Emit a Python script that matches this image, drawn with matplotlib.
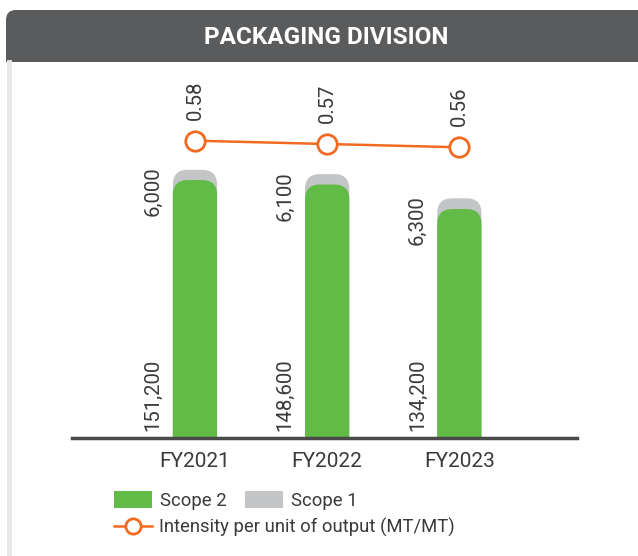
import matplotlib
matplotlib.use("Agg")
import matplotlib.pyplot as plt
from matplotlib.patches import FancyBboxPatch, Patch
from matplotlib.lines import Line2D

plt.rcParams["font.family"] = ["Roboto", "DejaVu Sans"]

years = ["FY2021", "FY2022", "FY2023"]
scope2 = [151200, 148600, 134200]
scope1 = [6000, 6100, 6300]
intensity = [0.58, 0.57, 0.56]

scope2_labels = ["151,200", "148,600", "134,200"]
scope1_labels = ["6,000", "6,100", "6,300"]
intensity_labels = ["0.58", "0.57", "0.56"]

GREEN = "#62BB46"
GREY = "#C4C5C7"
ORANGE = "#F26A21"
HEADER = "#5A5B5D"
TEXT = "#3a3a3a"

W, H = 638, 556
fig = plt.figure(figsize=(W / 100, H / 100), dpi=100)

# ── card background + header (pixel coords) ──────────────────────────
bg = fig.add_axes([0, 0, 1, 1], zorder=0)
bg.set_xlim(0, W)
bg.set_ylim(H, 0)
bg.axis("off")
bg.add_patch(FancyBboxPatch((6, 10), 680, 80, boxstyle="round,pad=0,rounding_size=10",
                            facecolor=HEADER, edgecolor="none"))
bg.add_patch(plt.Rectangle((6, 62), 680, 500, facecolor="white", edgecolor="none"))
bg.plot([8.5, 8.5], [62, 556], color="#e8e8e8", lw=3.5)
bg.text(326, 37, "PACKAGING DIVISION", color="white", fontsize=17.5,
        fontweight="bold", ha="center", va="center")

# ── main axes ────────────────────────────────────────────────────────
ax = fig.add_axes([72 / W, (H - 438) / H, 505 / W, 368 / H], zorder=1)
ax.patch.set_alpha(0)
x = list(range(len(years)))
ax.set_xlim(-0.93, 2.89)
ax.set_ylim(0, 368 / 0.001706)
for s in ["top", "right", "left"]:
    ax.spines[s].set_visible(False)
ax.spines["bottom"].set_color("#4a4a4a")
ax.spines["bottom"].set_linewidth(2.5)
ax.spines["bottom"].set_zorder(5)
ax.set_yticks([])
ax.set_xticks(x)
ax.set_xticklabels(years, fontsize=15, color=TEXT)
ax.tick_params(axis="x", length=0, pad=10)

# rounded-top bars (bottom hidden below the axis line)
fig.canvas.draw()
bb = ax.get_window_extent()
ypp = (ax.get_ylim()[1] - ax.get_ylim()[0]) / bb.height
xpp = (ax.get_xlim()[1] - ax.get_xlim()[0]) / bb.width
aspect = ypp / xpp
bw = 0.335
rad = 15 * xpp
below = -30 * ypp
for xi, s2, s1 in zip(x, scope2, scope1):
    ax.add_patch(FancyBboxPatch((xi - bw / 2, below), bw, s2 + s1 - below,
                                boxstyle=f"round,pad=0,rounding_size={rad}",
                                mutation_aspect=aspect, facecolor=GREY,
                                edgecolor="none", zorder=2))
    ax.add_patch(FancyBboxPatch((xi - bw / 2, below), bw, s2 - below,
                                boxstyle=f"round,pad=0,rounding_size={rad}",
                                mutation_aspect=aspect, facecolor=GREEN,
                                edgecolor="none", zorder=3))

for xi, s2, s1, l2, l1 in zip(x, scope2, scope1, scope2_labels, scope1_labels):
    ax.text(xi - 0.318, 7 * ypp, l2, rotation=90, ha="center", va="bottom",
            fontsize=14.7, color=TEXT)
    ax.text(xi - 0.318, s2 + s1 + 3 * ypp, l1, rotation=90, ha="center", va="top",
            fontsize=14.7, color=TEXT)

# ── intensity line ───────────────────────────────────────────────────
ax2 = ax.twinx()
ax2.set_ylim(0.58 - 297.3 / 330, 0.58 + 70.7 / 330)
ax2.axis("off")
ax2.plot(x, intensity, color=ORANGE, lw=1.8, marker="o", markersize=14,
         markerfacecolor="white", markeredgecolor=ORANGE, markeredgewidth=2,
         zorder=4)
for xi, v, lab in zip(x, intensity, intensity_labels):
    ax2.annotate(lab, (xi, v), xytext=(0, 15), textcoords="offset points",
                 rotation=90, ha="center", va="bottom", fontsize=14.7, color=TEXT)

# ── legend ───────────────────────────────────────────────────────────
h1 = [Patch(facecolor=GREEN, edgecolor="none"), Patch(facecolor=GREY, edgecolor="none")]
fig.legend(h1, ["Scope 2", "Scope 1"], loc="upper left",
           bbox_to_anchor=(114 / W, 1 - 491 / H), ncol=2, frameon=False,
           fontsize=13.3, handlelength=2.05, handleheight=1.0,
           handletextpad=0.45, columnspacing=1.0, borderpad=0,
           borderaxespad=0, labelcolor=TEXT)
h2 = [Line2D([0], [0], color=ORANGE, lw=1.8, marker="o", markersize=11,
             markerfacecolor="white", markeredgecolor=ORANGE, markeredgewidth=2)]
fig.legend(h2, ["Intensity per unit of output (MT/MT)"], loc="upper left",
           bbox_to_anchor=(114 / W, 1 - 518 / H), frameon=False, fontsize=13.3,
           handlelength=2.05, handletextpad=0.4, borderpad=0, borderaxespad=0,
           labelcolor=TEXT)

fig.savefig("out.png", dpi=100)
